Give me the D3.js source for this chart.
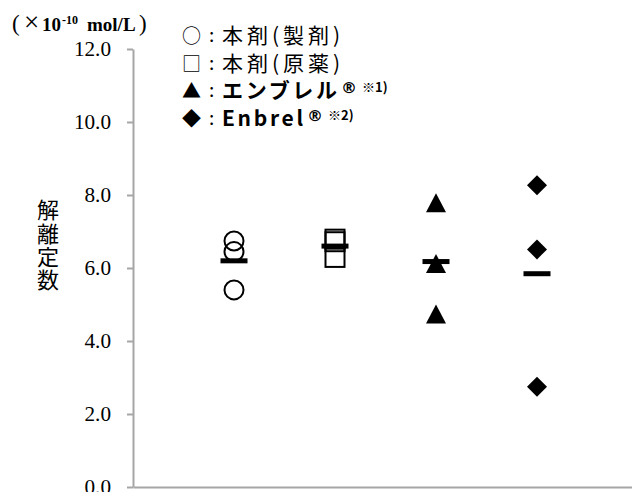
<!DOCTYPE html>
<html><head><meta charset="utf-8">
<script src="https://cdn.jsdelivr.net/npm/d3@7"></script>
<style>body{margin:0;background:#fff}svg{display:block}</style>
</head><body>
<svg id="c" width="632" height="492"></svg>
<script>
const groups = ["本剤(製剤)", "本剤(原薬)", "エンブレル", "Enbrel"];
const circleVals = [6.74, 6.45, 5.40];
const squareVals = [6.79, 6.72, 6.29];
const triangleVals = [7.75, 6.08, 4.70];
const diamondVals = [8.27, 6.51, 2.75];
const yTicks = [0, 2, 4, 6, 8, 10, 12];
const legendLabels = ["本剤(製剤)", "本剤(原薬)", "エンブレル", "Enbrel"];
const legendNotes = ["", "", "※1)", "※2)"];
const legendSymbols = ["○", "□", "▲", "◆"];
const yTitle = "解離定数";

const series = [
  {vals: circleVals, shape: "circle", pos: 1},
  {vals: squareVals, shape: "square", pos: 2},
  {vals: triangleVals, shape: "triangle", pos: 3},
  {vals: diamondVals, shape: "diamond", pos: 4}
];

const svg = d3.select("#c");
const x = d3.scaleLinear().domain([0, 5]).range([133, 638]);
const y = d3.scaleLinear().domain([0, 12]).range([487, 49]);

// y axis
const ya = svg.append("g").attr("transform", "translate(133,0)")
  .call(d3.axisLeft(y).tickValues(yTicks).tickFormat(d3.format(".1f")).tickSize(6).tickPadding(16).tickSizeOuter(0));
ya.select(".domain").attr("stroke", "#a6a6a6").attr("stroke-width", 2);
ya.selectAll(".tick line").attr("stroke", "#a6a6a6").attr("stroke-width", 2);
ya.selectAll(".tick text")
  .style("font-family", "'Liberation Serif', serif").style("font-size", "21px").attr("fill", "#000")
  .attr("textLength", function() { const s = this.textContent; return 21.2 * ((s.length - 1) * 0.5 + 0.25); })
  .attr("lengthAdjust", "spacingAndGlyphs");

// x axis
const xa = svg.append("g").attr("transform", "translate(0,487)")
  .call(d3.axisBottom(x).tickValues([]).tickSizeOuter(0));
xa.select(".domain").attr("stroke", "#a6a6a6").attr("stroke-width", 2);

// unit label
const ut = svg.append("text").attr("y", 31)
  .style("font-family", "'Liberation Serif', serif").style("font-weight", "bold").style("font-size", "19px").attr("fill", "#000");
ut.append("tspan").attr("x", 12).style("font-weight", "normal").style("font-size", "23px").text("(");
ut.append("tspan").attr("x", 24).style("font-weight", "normal").style("font-size", "27px").text("×");
ut.append("tspan").attr("x", 42).text("10");
ut.append("tspan").attr("x", 62).attr("dy", -7).style("font-size", "12px").text("-10");
ut.append("tspan").attr("x", 87).attr("dy", 7).text("mol/L");
ut.append("tspan").attr("x", 139).style("font-weight", "normal").style("font-size", "23px").text(")");

// y title (vertical)
svg.append("text").attr("x", 48).attr("y", 199)
  .style("writing-mode", "vertical-rl").style("letter-spacing", "1.3px")
  .style("font-family", "'Noto Sans CJK JP'").style("font-size", "22px").attr("fill", "#000")
  .text(yTitle);

// legend
const lg = svg.append("g").style("font-family", "'Noto Sans CJK JP'").attr("fill", "#000");
const labelLen = [118, 118, 115, 81];
legendLabels.forEach((lab, i) => {
  const by = 43 + i * 27.5;
  lg.append("text").attr("x", 182).attr("y", by).style("font-size", "19px").text(legendSymbols[i]);
  lg.append("text").attr("x", 209).attr("y", by - 1).style("font-size", "19px").text(":");
  lg.append("text").attr("x", 222).attr("y", by).style("font-size", "21px")
    .style("font-weight", i >= 2 ? "bold" : "normal")
    .attr("textLength", labelLen[i]).attr("lengthAdjust", "spacing").text(lab);
  if (i >= 2) {
    const nx = 222 + labelLen[i] + 4;
    const t = lg.append("text").attr("x", nx).attr("y", by - 5).style("font-weight", "bold");
    t.append("tspan").style("font-family", "'DejaVu Sans'").style("font-size", "16px").text("®");
    t.append("tspan").style("font-size", "13px").attr("dx", 5).attr("dy", -1).text(legendNotes[i]);
  }
});

// points
const g = svg.append("g");
series.forEach(s => {
  const cx = x(s.pos);
  s.vals.forEach(v => {
    const cy = y(v);
    if (s.shape === "circle") {
      g.append("circle").attr("cx", cx).attr("cy", cy).attr("r", 9.5)
        .attr("fill", "none").attr("stroke", "#000").attr("stroke-width", 2);
    } else if (s.shape === "square") {
      g.append("rect").attr("x", cx - 9.5).attr("y", cy - 9.5).attr("width", 19).attr("height", 19)
        .attr("fill", "none").attr("stroke", "#000").attr("stroke-width", 2);
    } else if (s.shape === "triangle") {
      g.append("path").attr("d", `M${cx},${cy - 11}L${cx + 10},${cy + 8}L${cx - 10},${cy + 8}Z`).attr("fill", "#000");
    } else {
      g.append("path").attr("d", `M${cx},${cy - 10}L${cx + 10},${cy}L${cx},${cy + 10}L${cx - 10},${cy}Z`).attr("fill", "#000");
    }
  });
  const m = d3.mean(s.vals);
  g.append("rect").attr("x", cx - 13.5).attr("y", y(m) - 2.5).attr("width", 27).attr("height", 5).attr("fill", "#000");
});
</script>
</body></html>
